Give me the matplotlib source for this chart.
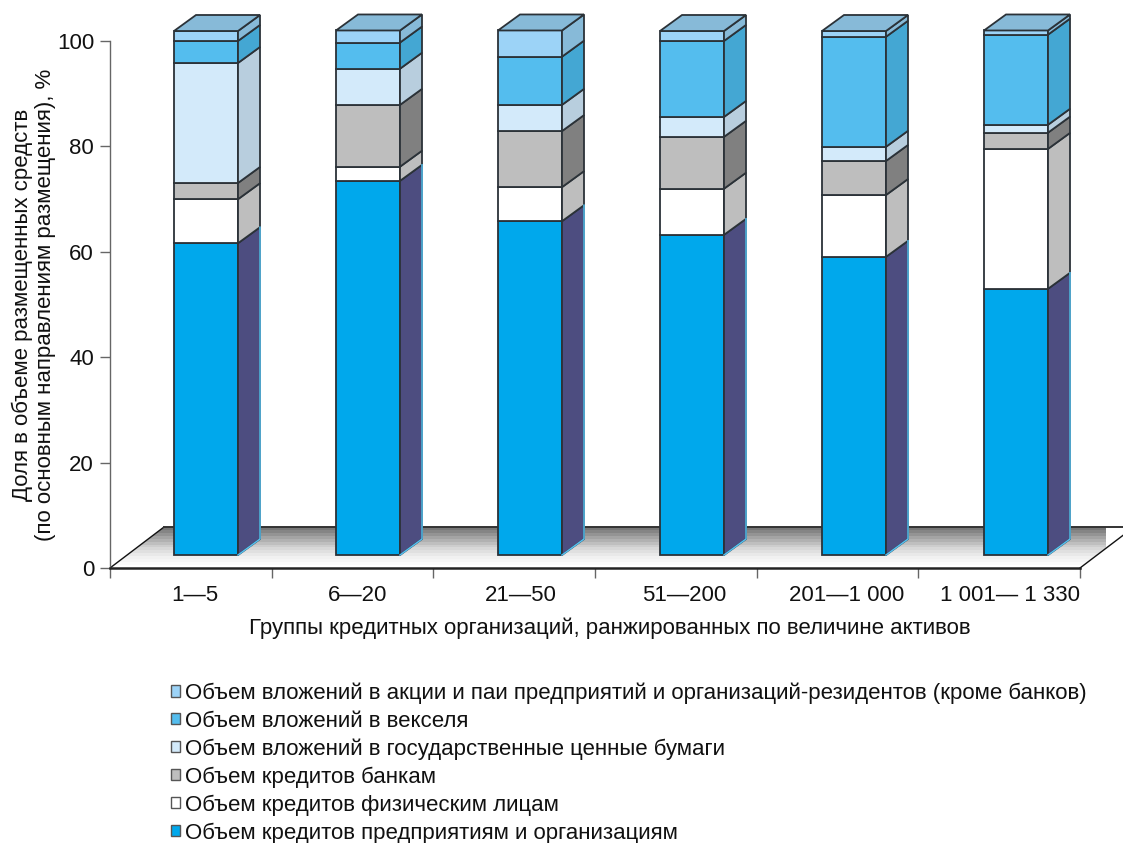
#!/bin/env python3

import numpy as np
import matplotlib
matplotlib.use('Agg')
import matplotlib.pyplot as plt
from matplotlib.patches import Patch, Polygon
from matplotlib.colors import LinearSegmentedColormap

plt.rcParams['font.family'] = ['Liberation Sans', 'DejaVu Sans']

# %% data -----

groups = ['1—5', '6—20', '21—50', '51—200', '201—1 000', '1 001— 1 330']

corporate = [59.5, 71.4, 63.7, 61.1, 56.9, 50.8]
retail = [8.4, 2.7, 6.5, 8.8, 11.8, 26.7]
banks = [3.1, 11.8, 10.7, 9.9, 6.5, 3.1]
government = [22.9, 6.9, 5.0, 3.8, 2.7, 1.5]
bills = [4.2, 5.0, 9.2, 14.5, 21.0, 17.2]
shares = [1.9, 2.3, 5.0, 1.9, 1.1, 0.8]

series_values = [corporate, retail, banks, government, bills, shares]
series_names = [
    'Объем кредитов предприятиям и организациям',
    'Объем кредитов физическим лицам',
    'Объем кредитов банкам',
    'Объем вложений в государственные ценные бумаги',
    'Объем вложений в векселя',
    'Объем вложений в акции и паи предприятий и организаций-резидентов (кроме банков)',
]
front_colors = ['#00a8ec', '#ffffff', '#bebebe', '#d3eafa', '#54bdee', '#9cd3f7']
side_colors = ['#4d4d80', '#bebebe', '#808080', '#b8cede', '#44a7d3', '#87bad8']
top_color = '#87bad8'
edge_color = '#2b3238'

# %% layout -----

px_x = 970 / 6   # pixels per category
px_y = 527 / 100  # pixels per percent

bar_pitch = 162 / px_x
bar_left = 64 / px_x
bar_width = 64 / px_x
depth_x = 22 / px_x
depth_y = 16 / px_y
bar_base = 13 / px_y
bar_scale = 524 / 527
font_size = 16

fig = plt.figure(figsize=(11.23, 8.43), dpi=100)
ax = fig.add_axes([110 / 1123, (843 - 568) / 843, 970 / 1123, 527 / 843])

# %% floor -----

floor_x = 54 / px_x
floor_y = 41 / px_y
floor_end = 6 + 26 / px_x
shade = LinearSegmentedColormap.from_list('floor', ['#777777', '#a8a8a8', '#d4d4d4', '#f0f0f0', '#ffffff'])
bands = np.linspace(0, 1, 14).reshape(-1, 1)
image = ax.imshow(bands, cmap=shade, aspect='auto', extent=(0, floor_end, 0, floor_y),
                  zorder=1, interpolation='nearest')
clip = Polygon([(0, 0), (floor_x, floor_y), (floor_end, floor_y),
                (floor_end, 20 / px_y), (6, 0)], transform=ax.transData, fc='none', ec='none')
image.set_clip_path(clip)
image.set_clip_box(fig.bbox)
ax.plot([0, floor_x], [0, floor_y], color='#111111', lw=1.0, zorder=2)
ax.plot([6, 6 + floor_x], [0, floor_y], color='#111111', lw=1.0, zorder=2, clip_on=False)
ax.plot([floor_x, 6 + floor_x], [floor_y, floor_y], color='#333333', lw=1.4, zorder=2, clip_on=False)

# %% bars -----

for i in range(len(groups)):
    x0 = i * bar_pitch + bar_left
    x1 = x0 + bar_width
    bottom = bar_base
    for values, front, side in zip(series_values, front_colors, side_colors):
        top = bottom + values[i] * bar_scale
        ax.add_patch(Polygon([(x0, bottom), (x1, bottom), (x1, top), (x0, top)],
                             fc=front, ec=edge_color, lw=1.3, zorder=3, clip_on=False))
        ax.add_patch(Polygon([(x1, bottom), (x1 + depth_x, bottom + depth_y),
                              (x1 + depth_x, top + depth_y), (x1, top)],
                             fc=side, ec=edge_color, lw=1.3, zorder=3, clip_on=False))
        bottom = top
    ax.add_patch(Polygon([(x0, bottom), (x0 + depth_x, bottom + depth_y),
                          (x1 + depth_x, bottom + depth_y), (x1, bottom)],
                         fc=top_color, ec=edge_color, lw=1.3, zorder=3, clip_on=False))
    # light edge along the lower part of the bar's side
    low = bar_base + corporate[i] * bar_scale
    ax.plot([x1, x1 + depth_x, x1 + depth_x], [bar_base, bar_base + depth_y, low + depth_y],
            color='#55c0f0', lw=1.1, zorder=4, clip_on=False)

# %% axes -----

ax.set_xlim(0, 6)
ax.set_ylim(0, 100)
ax.spines['top'].set_visible(False)
ax.spines['right'].set_visible(False)
ax.spines['left'].set_color('#666666')
ax.spines['left'].set_linewidth(1.0)
ax.spines['bottom'].set_color('#222222')
ax.spines['bottom'].set_linewidth(1.8)
ax.spines['bottom'].set_zorder(5)

ax.set_yticks([0, 20, 40, 60, 80, 100])
ax.tick_params(axis='y', length=7, width=1.0, color='#666666', labelsize=font_size, pad=4.5, labelcolor='#111111')
ax.set_xticks(range(7))
ax.set_xticklabels([])
ax.set_xticks((np.arange(6) * 163 + 85) / px_x, labels=groups, minor=True)
ax.tick_params(axis='x', which='major', length=7, width=1.0, color='#666666')
ax.tick_params(axis='x', which='minor', length=0, labelsize=font_size, pad=12.5, labelcolor='#111111')
ax.set_xlabel('Группы кредитных организаций, ранжированных по величине активов',
              fontsize=font_size, color='#111111', labelpad=8, x=0.515)
ax.set_ylabel('Доля в объеме размещенных средств\n(по основным направлениям размещения), %',
              fontsize=font_size, color='#111111', labelpad=0.5, linespacing=1.15)

# %% legend -----

handles = [Patch(fc=c, ec='#555555', lw=1.0) for c in front_colors[::-1]]
fig.legend(handles, series_names[::-1], loc='upper left', bbox_to_anchor=(167 / 1123, 1 - 678 / 843),
           frameon=False, fontsize=font_size, labelcolor='#111111', handlelength=0.4, handleheight=0.4,
           handletextpad=0.2, labelspacing=0.3, borderaxespad=0, borderpad=0.2)

fig.savefig('out.png', dpi=100)
